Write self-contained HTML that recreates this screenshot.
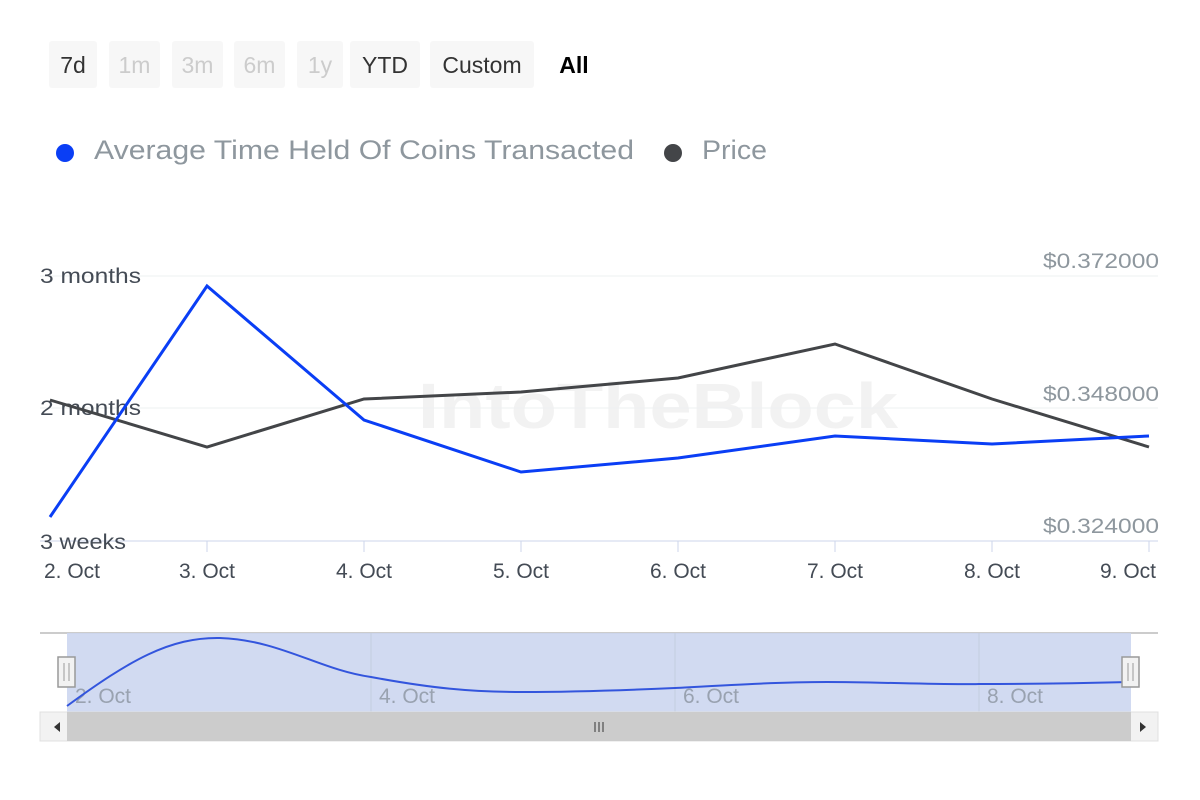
<!DOCTYPE html>
<html><head><style>
body{margin:0;background:#fff;font-family:"Liberation Sans",sans-serif;}
.b{position:absolute;top:41px;height:47px;background:#f7f7f7;border-radius:3px;font-size:23px;line-height:49px;text-align:center;color:#333}
.d{color:#ccc}
</style></head><body>
<div style="position:relative;width:1200px;height:800px;overflow:hidden">
<div class="b" style="left:49px;width:48px">7d</div>
<div class="b d" style="left:109px;width:51px">1m</div>
<div class="b d" style="left:172px;width:51px">3m</div>
<div class="b d" style="left:234px;width:51px">6m</div>
<div class="b d" style="left:297px;width:46px">1y</div>
<div class="b" style="left:350px;width:70px">YTD</div>
<div class="b" style="left:430px;width:104px">Custom</div>
<div class="b" style="left:546px;width:56px;background:none;font-weight:bold;color:#000">All</div>
<svg width="1200" height="800" style="position:absolute;left:0;top:0">
<circle cx="65" cy="153" r="9" fill="#0a3ef5"/>
<text x="94" y="159" font-size="27" fill="#8e979e" textLength="540" lengthAdjust="spacingAndGlyphs">Average Time Held Of Coins Transacted</text>
<circle cx="673" cy="153" r="9" fill="#434548"/>
<text x="702" y="159" font-size="27" fill="#8e979e" textLength="65" lengthAdjust="spacingAndGlyphs">Price</text>
<text x="418" y="428" font-size="64" font-weight="bold" fill="#f2f2f2" textLength="480" lengthAdjust="spacingAndGlyphs">IntoTheBlock</text>
<g stroke="#eef0f2" stroke-width="1"><line x1="40" y1="276" x2="1158" y2="276"/><line x1="40" y1="408" x2="1158" y2="408"/></g>
<line x1="40" y1="541" x2="1158" y2="541" stroke="#ccd6eb"/>
<g stroke="#ccd6eb"><line x1="207" y1="541" x2="207" y2="552"/><line x1="364" y1="541" x2="364" y2="552"/><line x1="521" y1="541" x2="521" y2="552"/><line x1="678" y1="541" x2="678" y2="552"/><line x1="835" y1="541" x2="835" y2="552"/><line x1="992" y1="541" x2="992" y2="552"/><line x1="1149" y1="541" x2="1149" y2="552"/></g>
<g font-size="21" fill="#444b55"><text x="40" y="283" textLength="101" lengthAdjust="spacingAndGlyphs">3 months</text><text x="40" y="415" textLength="101" lengthAdjust="spacingAndGlyphs">2 months</text><text x="40" y="549" textLength="86" lengthAdjust="spacingAndGlyphs">3 weeks</text></g>
<g font-size="21" fill="#8e979e"><text x="1043" y="268" textLength="116" lengthAdjust="spacingAndGlyphs">$0.372000</text><text x="1043" y="401" textLength="116" lengthAdjust="spacingAndGlyphs">$0.348000</text><text x="1043" y="533" textLength="116" lengthAdjust="spacingAndGlyphs">$0.324000</text></g>
<g font-size="21" fill="#444b55" text-anchor="middle"><text x="72" y="578">2. Oct</text><text x="207" y="578">3. Oct</text><text x="364" y="578">4. Oct</text><text x="521" y="578">5. Oct</text><text x="678" y="578">6. Oct</text><text x="835" y="578">7. Oct</text><text x="992" y="578">8. Oct</text><text x="1128" y="578">9. Oct</text></g>
<polyline fill="none" stroke="#434548" stroke-width="3" points="50,400 207,447 364,399 521,392 678,378 835,344 992,399 1149,447"/>
<polyline fill="none" stroke="#0a3ef5" stroke-width="3" points="50,517 207,286 364,420 521,472 678,458 835,436 992,444 1149,436"/>
<line x1="40" y1="633" x2="1158" y2="633" stroke="#ccc" stroke-width="2"/>
<rect x="67" y="633" width="1064" height="79" fill="#ccd6f0" opacity="0.9"/>
<g stroke="#c4cde0"><line x1="371" y1="633" x2="371" y2="712"/><line x1="675" y1="633" x2="675" y2="712"/><line x1="979" y1="633" x2="979" y2="712"/></g>
<g font-size="21" fill="#99a2b0"><text x="75" y="703">2. Oct</text><text x="379" y="703">4. Oct</text><text x="683" y="703">6. Oct</text><text x="987" y="703">8. Oct</text></g>
<path d="M67,706 C130,660 170,637 220,638 C280,640 320,670 371,677 C430,688 470,692 523,692 C580,692 630,690 675,688 C730,685 780,682 827,682 C880,682 940,685 979,684 C1040,684 1090,683 1131,682" fill="none" stroke="#3355dd" stroke-width="2"/>
<rect x="58" y="657" width="17" height="30" fill="#f2f2f2" stroke="#999" stroke-width="1.5"/><line x1="64" y1="663" x2="64" y2="681" stroke="#999"/><line x1="69" y1="663" x2="69" y2="681" stroke="#999"/>
<rect x="1122" y="657" width="17" height="30" fill="#f2f2f2" stroke="#999" stroke-width="1.5"/><line x1="1128" y1="663" x2="1128" y2="681" stroke="#999"/><line x1="1133" y1="663" x2="1133" y2="681" stroke="#999"/>
<rect x="40" y="712" width="1118" height="29" fill="#f2f2f2" stroke="#e0e0e0"/>
<rect x="67" y="712" width="1064" height="29" fill="#cccccc"/>
<path d="M54,727 L60,722 L60,732Z" fill="#333"/><path d="M1146,727 L1140,722 L1140,732Z" fill="#333"/>
<g stroke="#333"><line x1="595" y1="722" x2="595" y2="732"/><line x1="599" y1="722" x2="599" y2="732"/><line x1="603" y1="722" x2="603" y2="732"/></g>
</svg>
</div>
</body></html>
